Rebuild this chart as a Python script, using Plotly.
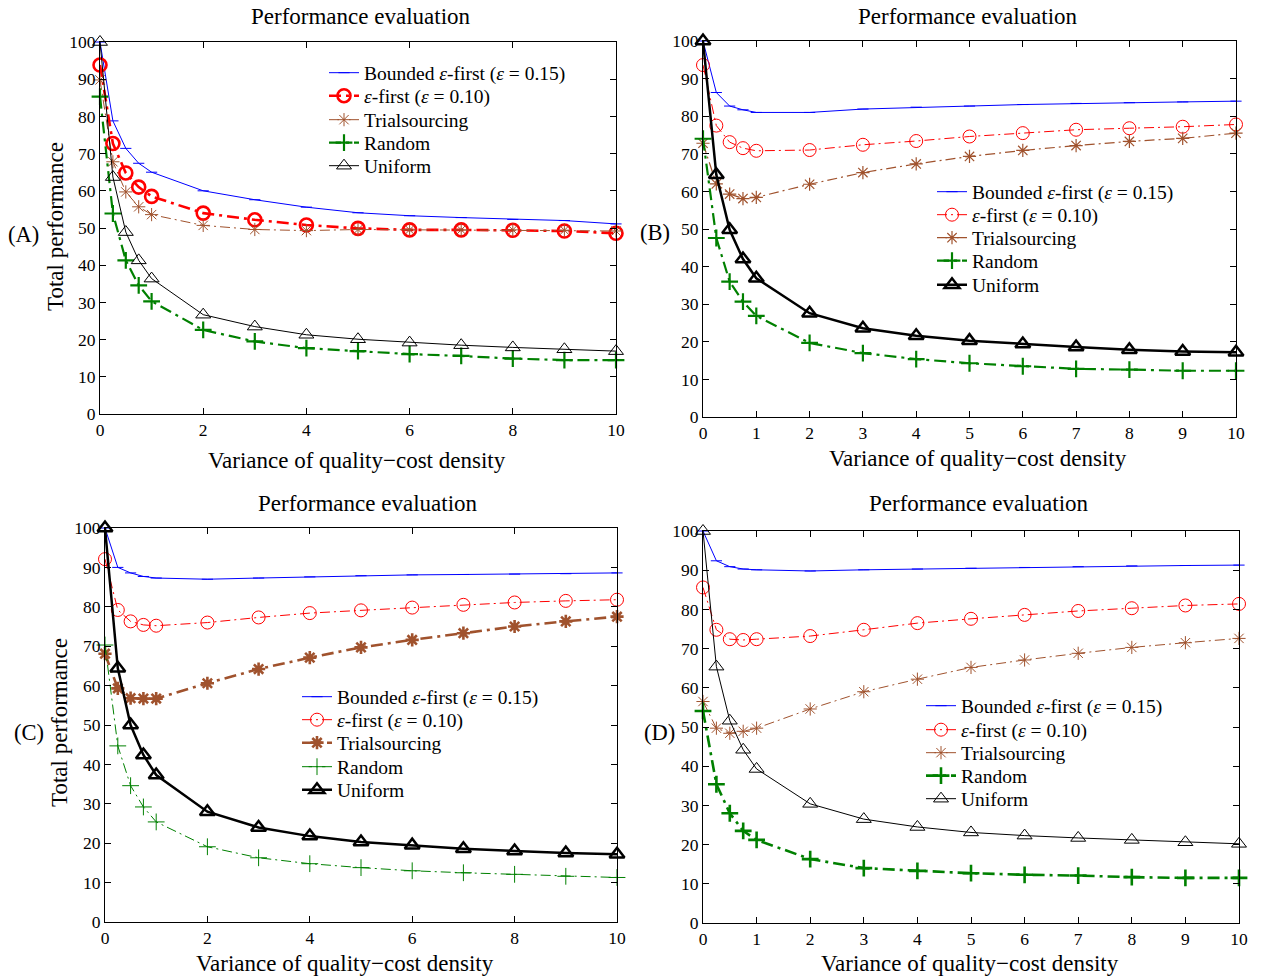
import plotly.graph_objects as go

# Variance of the quality-cost density (shared x values)
x_var = [0, 0.25, 0.5, 0.75, 1, 2, 3, 4, 5, 6, 7, 8, 9, 10]

# Panel A
bounded_a = [100, 78.8, 71.4, 67.4, 65.0, 60.0, 57.6, 55.6, 54.1, 53.3, 52.8, 52.3, 52.0, 51.1]
eps_a = [93.8, 72.7, 64.8, 61.0, 58.5, 54.0, 52.2, 50.8, 49.9, 49.5, 49.5, 49.4, 49.2, 48.6]
trial_a = [89.8, 67.8, 59.7, 55.7, 53.6, 50.7, 49.6, 49.3, 49.6, 49.5, 49.5, 49.5, 49.4, 49.2]
random_a = [85.3, 53.9, 41.3, 34.6, 30.3, 22.6, 19.5, 17.7, 16.9, 16.1, 15.6, 14.9, 14.5, 14.5]
uniform_a = [100, 63.7, 48.9, 41.3, 36.4, 26.7, 23.5, 21.3, 20.1, 19.2, 18.5, 17.9, 17.4, 16.9]

# Panel B
bounded_b = [100, 86.3, 82.7, 81.7, 81.0, 81.0, 81.9, 82.4, 82.7, 83.1, 83.4, 83.6, 83.8, 84.0]
eps_b = [93.6, 77.5, 73.1, 71.5, 70.8, 71.0, 72.4, 73.4, 74.6, 75.5, 76.4, 76.8, 77.2, 77.8]
trial_b = [72.8, 62.0, 59.3, 58.1, 58.4, 61.9, 65.0, 67.3, 69.3, 70.9, 72.2, 73.3, 74.1, 75.5]
random_b = [74.0, 47.6, 36.0, 30.7, 26.9, 19.7, 17.0, 15.4, 14.3, 13.5, 12.8, 12.6, 12.3, 12.3]
uniform_b = [100, 64.4, 49.8, 42.0, 36.9, 27.6, 23.6, 21.6, 20.3, 19.4, 18.6, 17.9, 17.4, 17.2]

# Panel C
bounded_c = [100, 90.0, 88.6, 87.7, 87.3, 87.0, 87.3, 87.6, 87.9, 88.1, 88.2, 88.3, 88.4, 88.6]
eps_c = [92.1, 79.2, 76.3, 75.4, 75.2, 76.0, 77.3, 78.4, 79.1, 79.8, 80.5, 81.1, 81.5, 81.8]
trial_c = [68.1, 59.3, 56.8, 56.7, 56.7, 60.6, 64.2, 67.1, 69.7, 71.6, 73.3, 75.0, 76.3, 77.5]
random_c = [70.3, 44.7, 34.6, 29.2, 25.4, 19.1, 16.3, 14.8, 13.8, 13.0, 12.5, 12.1, 11.6, 11.3]
uniform_c = [100, 64.4, 50.0, 42.4, 37.3, 28.0, 24.0, 21.8, 20.3, 19.5, 18.6, 18.0, 17.5, 17.2]

# Panel D
bounded_d = [100, 92.4, 90.9, 90.3, 90.1, 89.8, 90.1, 90.3, 90.5, 90.7, 90.9, 91.1, 91.2, 91.3]
eps_d = [85.6, 74.8, 72.4, 72.2, 72.4, 73.2, 74.8, 76.5, 77.6, 78.6, 79.6, 80.3, 81.0, 81.4]
trial_d = [56.5, 49.7, 48.4, 48.9, 49.7, 54.6, 59.0, 62.2, 65.2, 67.1, 68.8, 70.3, 71.5, 72.6]
random_d = [54.1, 35.4, 28.0, 23.5, 21.2, 16.3, 14.0, 13.3, 12.7, 12.3, 12.1, 11.7, 11.5, 11.5]
uniform_d = [100, 65.4, 51.6, 44.2, 39.3, 30.4, 26.5, 24.5, 23.1, 22.3, 21.7, 21.2, 20.6, 20.2]

series_names = [
    "Bounded <i>ε</i>-first (<i>ε</i> = 0.15)",
    "<i>ε</i>-first (<i>ε</i> = 0.10)",
    "Trialsourcing",
    "Random",
    "Uniform",
]
panel_labels = ["(A)", "(B)", "(C)", "(D)"]
title_text = "Performance evaluation"
xlabel_text = "Variance of quality−cost density"
ylabel_text = "Total performance"

panels = [
    [bounded_a, eps_a, trial_a, random_a, uniform_a],
    [bounded_b, eps_b, trial_b, random_b, uniform_b],
    [bounded_c, eps_c, trial_c, random_c, uniform_c],
    [bounded_d, eps_d, trial_d, random_d, uniform_d],
]

W, H = 1261, 978
FONT = "Liberation Serif, Times New Roman, serif"

colors = ["#0000FF", "#FF0000", "#A0522D", "#008000", "#000000"]
symbols = ["line-ew-open", "circle-open", "asterisk-open", "cross-thin-open", "triangle-up-open"]
thin_dd = "10px,4px,2px,4px"
thick_dd = "12px,5px,3px,5px"
dashes = ["solid", "dd", "dd", "dd", "solid"]

# line widths per panel for each series
widths = [
    [1, 2.6, 1, 2.2, 1],
    [1, 1, 1.2, 2.2, 2.5],
    [1, 1, 2.6, 1, 2.5],
    [1, 1, 1, 2.6, 1],
]
msizes = [8, 13, 11, 12, 13]

# axes boxes in pixels: (left, right, top, bottom)
boxes = [
    (100, 616, 42, 414),
    (703, 1236, 41, 417),
    (105, 617, 528, 922),
    (703, 1239, 531, 923),
]
xtick_steps = [2, 1, 2, 1]
# legend: left edge of the entry block, and the centre of each row
legend_x = [324, 932, 297, 921]
legend_rows = [
    [73, 96, 120, 143, 166],
    [192, 215, 238, 261, 285],
    [697, 720, 743, 767, 790],
    [706, 730, 753, 776, 799],
]
title_pos = [(361, 17), (968, 16), (368, 503), (979, 503)]
xlabel_pos = [(357, 460), (978, 459), (345, 963), (970, 963)]
ylabel_pos = [(55, 227), None, (59, 723), None]
plabel_pos = [(23, 235), (655, 232), (29, 732), (659, 732)]


def px_x(v):
    return v / W


def px_y(v):
    return 1 - v / H


fig = go.Figure()
annotations = []
layout_extra = {}

leg_idx = 0
for p, data in enumerate(panels):
    sfx = "" if p == 0 else str(p + 1)
    for s, yvals in enumerate(data):
        leg_idx += 1
        leg = "legend" if leg_idx == 1 else f"legend{leg_idx}"
        w = widths[p][s]
        dash = dashes[s]
        if dash == "dd":
            dash = thick_dd if w >= 2 else thin_dd
        fig.add_trace(go.Scatter(
            x=x_var, y=yvals, name=series_names[s],
            mode="lines+markers",
            line=dict(color=colors[s], width=w, dash=dash),
            marker=dict(symbol=symbols[s], size=msizes[s], color=colors[s],
                        line=dict(color=colors[s], width=max(w, 1))),
            xaxis="x" + sfx, yaxis="y" + sfx, legend=leg,
            cliponaxis=False,
        ))
        layout_extra[leg] = dict(
            x=px_x(legend_x[p]), y=px_y(legend_rows[p][s]),
            xanchor="left", yanchor="middle",
            bgcolor="rgba(0,0,0,0)", borderwidth=0,
            font=dict(family=FONT, size=19.5, color="black"),
        )

    l, r, t, b = boxes[p]
    axis_common = dict(
        showline=True, linecolor="black", linewidth=1.2, mirror="ticks",
        ticks="inside", ticklen=6, tickcolor="black", tickwidth=1,
        showgrid=False, zeroline=False,
        tickfont=dict(family=FONT, size=17.5, color="black"),
    )
    layout_extra["xaxis" + sfx] = dict(
        axis_common, domain=[px_x(l), px_x(r)], range=[0, 10],
        dtick=xtick_steps[p], tick0=0, anchor="y" + sfx,
    )
    layout_extra["yaxis" + sfx] = dict(
        axis_common, domain=[px_y(b), px_y(t)], range=[0, 100],
        dtick=10, tick0=0, anchor="x" + sfx,
    )

    tx, ty = title_pos[p]
    annotations.append(dict(text=title_text, x=px_x(tx), y=px_y(ty), xref="paper", yref="paper",
                            showarrow=False, font=dict(family=FONT, size=23, color="black"),
                            xanchor="center", yanchor="middle"))
    xx, xy = xlabel_pos[p]
    annotations.append(dict(text=xlabel_text, x=px_x(xx), y=px_y(xy), xref="paper", yref="paper",
                            showarrow=False, font=dict(family=FONT, size=23, color="black"),
                            xanchor="center", yanchor="middle"))
    if ylabel_pos[p] is not None:
        yx, yy = ylabel_pos[p]
        annotations.append(dict(text=ylabel_text, x=px_x(yx), y=px_y(yy), xref="paper", yref="paper",
                                showarrow=False, textangle=-90,
                                font=dict(family=FONT, size=23, color="black"),
                                xanchor="center", yanchor="middle"))
    plx, ply = plabel_pos[p]
    annotations.append(dict(text=panel_labels[p], x=px_x(plx), y=px_y(ply), xref="paper", yref="paper",
                            showarrow=False, font=dict(family=FONT, size=22.5, color="black"),
                            xanchor="center", yanchor="middle"))

fig.update_layout(
    width=W, height=H,
    margin=dict(l=0, r=0, t=0, b=0, pad=0, autoexpand=False),
    paper_bgcolor="white", plot_bgcolor="white",
    showlegend=True,
    annotations=annotations,
    **layout_extra,
)

fig.write_html("out.html")
